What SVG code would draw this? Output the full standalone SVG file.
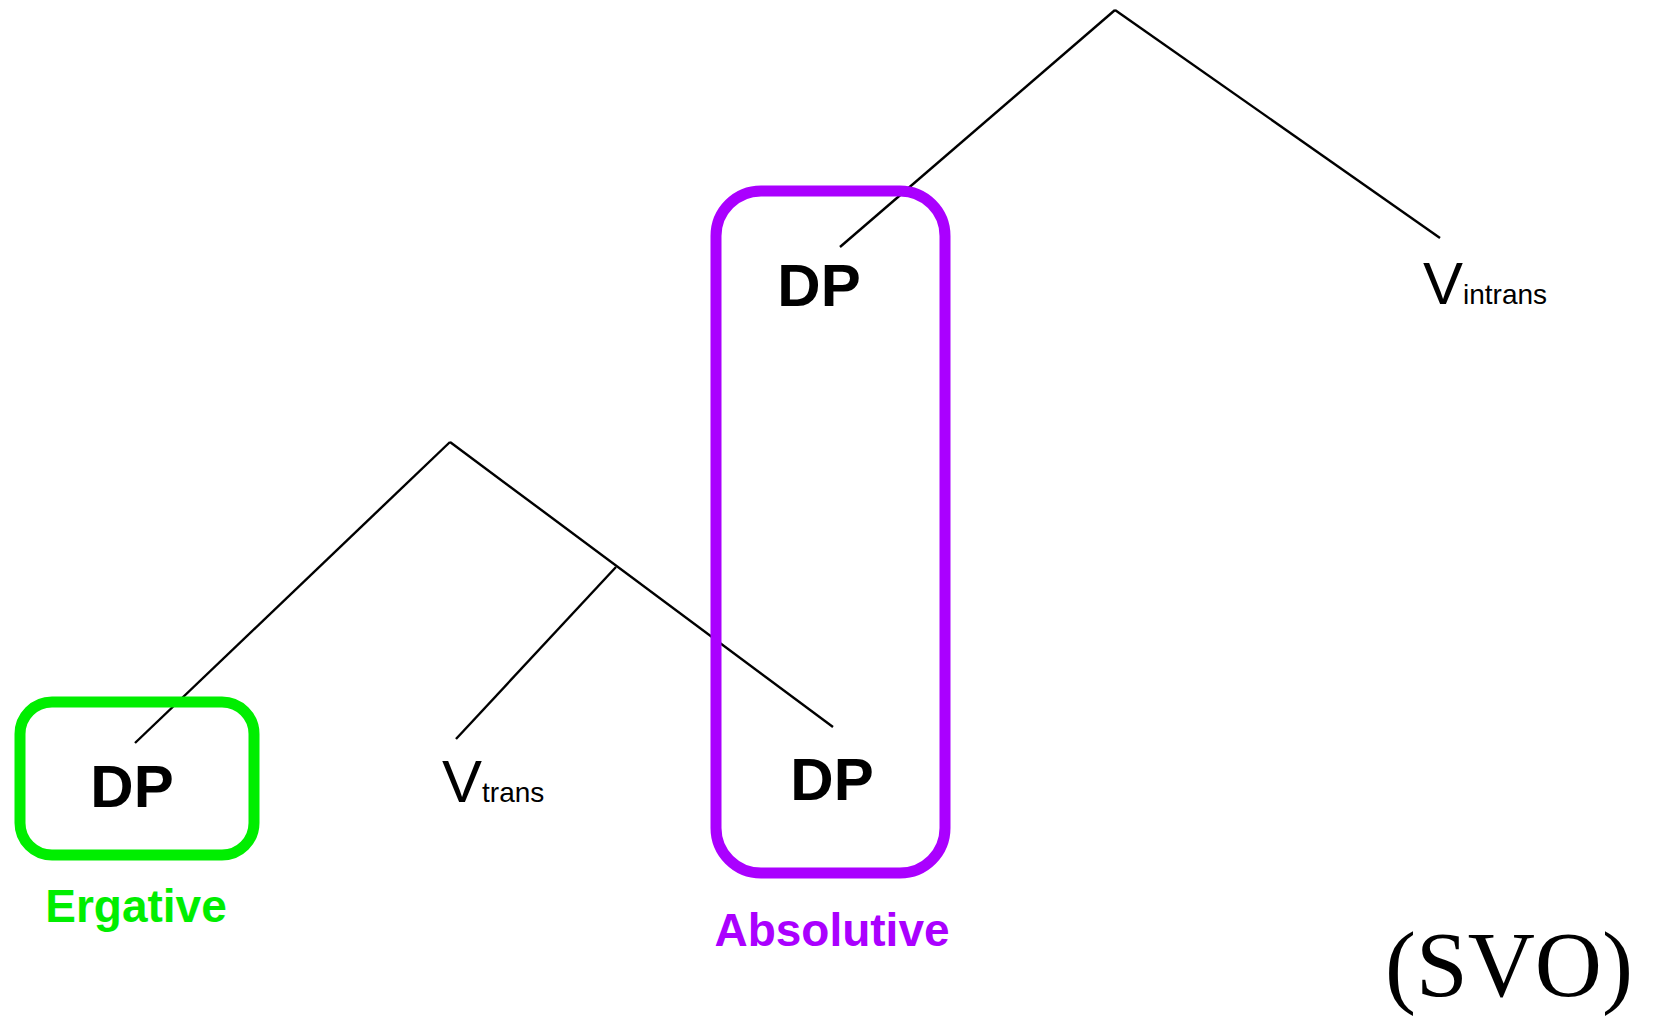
<svg xmlns="http://www.w3.org/2000/svg" width="1654" height="1020" viewBox="0 0 1654 1020">
<style>
.edge{stroke:#000;stroke-width:2.4;fill:none;stroke-linecap:butt}
.lbl{font-family:"Liberation Sans",Arial,sans-serif;fill:#000}
.dp{font-weight:bold;font-size:60px;text-anchor:middle}
.v{font-size:60px}
.sub{font-size:28px}
.box{fill:none;stroke-width:11}
.case{font-family:"Liberation Sans",Arial,sans-serif;font-weight:bold;font-size:46px;text-anchor:middle}
</style>
<rect width="1654" height="1020" fill="#fff"/>
<g id="connectors">
<line class="edge" x1="1115" y1="10" x2="840" y2="247"/>
<line class="edge" x1="1115" y1="10" x2="1440" y2="238"/>
<line class="edge" x1="450" y1="442" x2="135" y2="743"/>
<line class="edge" x1="450" y1="442" x2="833" y2="727"/>
<line class="edge" x1="616" y1="567" x2="456" y2="739"/>
</g>
<g id="dp-top"><text class="lbl dp" x="819" y="306">DP</text></g>
<g id="v-intrans"><text class="lbl" x="1423" y="304"><tspan class="v">V</tspan><tspan class="sub">intrans</tspan></text></g>
<g id="dp-erg"><text class="lbl dp" x="132" y="807">DP</text></g>
<g id="v-trans"><text class="lbl" x="442" y="802"><tspan class="v">V</tspan><tspan class="sub">trans</tspan></text></g>
<g id="dp-abs"><text class="lbl dp" x="832" y="800">DP</text></g>
<g id="ergative-box">
<rect class="box" x="20" y="702" width="234" height="153" rx="32" ry="32" stroke="#00ee00"/>
<text class="case" x="136" y="922" fill="#00ee00">Ergative</text>
</g>
<g id="absolutive-box">
<rect class="box" x="716" y="191" width="229" height="682" rx="45" ry="45" stroke="#aa00ff"/>
<text class="case" x="832" y="946" fill="#aa00ff">Absolutive</text>
</g>
<g id="svo"><text x="1509" y="996" font-family="'Liberation Serif','Times New Roman',serif" font-size="93" text-anchor="middle" fill="#000">(SVO)</text></g>
</svg>
